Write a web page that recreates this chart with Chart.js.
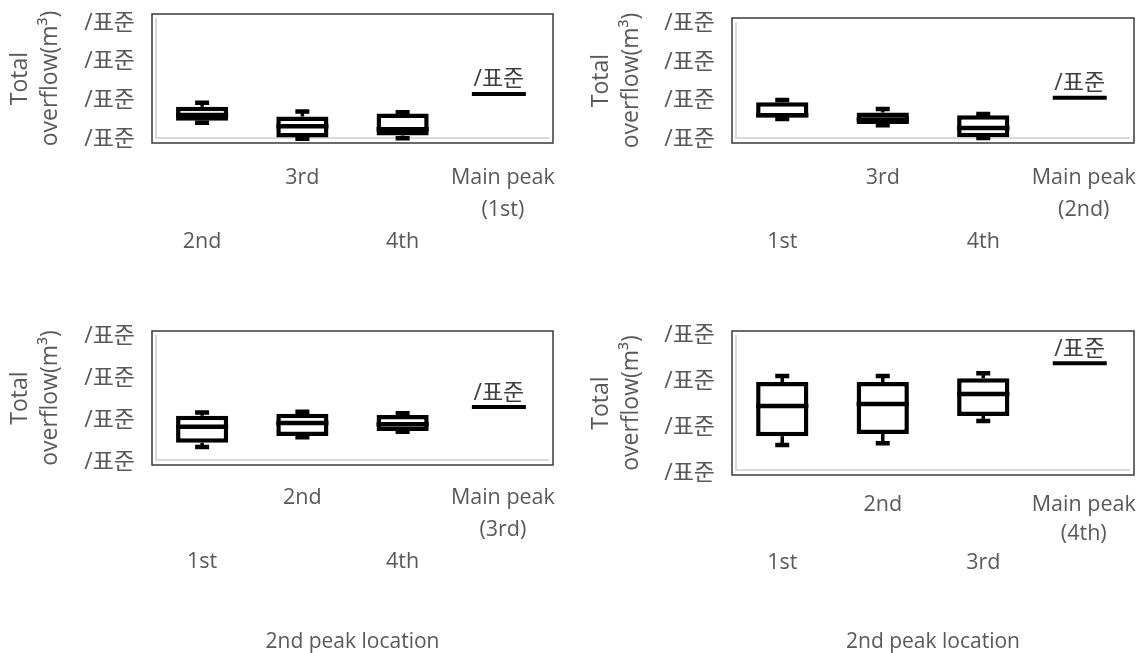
<!DOCTYPE html>
<html>
<head>
<meta charset="utf-8">
<script src="https://cdn.jsdelivr.net/npm/chart.js@4"></script>
<style>
  body { margin: 0; background: #fff; overflow: hidden; }
  .panel { position: absolute; }
</style>
</head>
<body>
<canvas id="c1" class="panel"></canvas>
<canvas id="c2" class="panel"></canvas>
<canvas id="c3" class="panel"></canvas>
<canvas id="c4" class="panel"></canvas>
<script>
// shared axis text
const yTickValues = [0, 1, 2, 3];
const yTickLabels = ['/표준', '/표준', '/표준', '/표준'];
const yTitle = ['Total', 'overflow(m³)'];
const xTitle = '2nd peak location';
const mainLabel = '/표준';

// panel 1 - main peak 1st
const p1Cats = ['2nd', '3rd', '4th', ['Main peak', '(1st)']];
const p1Min = [0.44, 0.03, 0.04, null];
const p1Q1 = [0.49, 0.06, 0.11, null];
const p1Med = [0.64, 0.35, 0.27, null];
const p1Q3 = [0.85, 0.60, 0.68, null];
const p1Max = [0.95, 0.73, 0.71, null];
const p1Main = 1.18;

// panel 2 - main peak 2nd
const p2Cats = ['1st', '3rd', '4th', ['Main peak', '(2nd)']];
const p2Min = [0.53, 0.37, 0.04, null];
const p2Q1 = [0.57, 0.40, 0.06, null];
const p2Med = [0.63, 0.52, 0.30, null];
const p2Q3 = [0.96, 0.70, 0.63, null];
const p2Max = [1.02, 0.79, 0.66, null];
const p2Main = 1.08;

// panel 3 - main peak 3rd
const p3Cats = ['1st', '2nd', '4th', ['Main peak', '(3rd)']];
const p3Min = [0.38, 0.61, 0.74, null];
const p3Q1 = [0.48, 0.64, 0.76, null];
const p3Med = [0.86, 0.95, 0.92, null];
const p3Q3 = [1.12, 1.17, 1.14, null];
const p3Max = [1.20, 1.22, 1.18, null];
const p3Main = 1.33;

// panel 4 - main peak 4th
const p4Cats = ['1st', '2nd', '3rd', ['Main peak', '(4th)']];
const p4Min = [0.61, 0.65, 1.13, null];
const p4Q1 = [0.80, 0.85, 1.24, null];
const p4Med = [1.46, 1.50, 1.72, null];
const p4Q3 = [1.98, 1.98, 2.06, null];
const p4Max = [2.11, 2.11, 2.17, null];
const p4Main = 2.39;

const FONT = "'Open Sans', 'Noto Sans CJK KR', sans-serif";
const GREY = '#595959';

// frame: black box round the plot area plus the light grey inner axis lines
const framePlugin = {
  id: 'frame',
  beforeDatasetsDraw(chart) {
    const a = chart.chartArea, ctx = chart.ctx;
    ctx.save();
    ctx.strokeStyle = '#d9d9d9';
    ctx.lineWidth = 2;
    ctx.beginPath();
    ctx.moveTo(a.left + 4, a.top + 4);
    ctx.lineTo(a.left + 4, a.bottom - 5);
    ctx.lineTo(a.right - 4, a.bottom - 5);
    ctx.stroke();
    ctx.strokeStyle = '#3a3a3a';
    ctx.lineWidth = 1.5;
    ctx.strokeRect(a.left, a.top, a.right - a.left, a.bottom - a.top);
    ctx.restore();
  }
};

// whiskers, medians and the main peak marker
const boxPlugin = {
  id: 'boxExtras',
  afterDatasetsDraw(chart) {
    const o = chart.options.plugins.boxExtras;
    const y = chart.scales.y, x = chart.scales.x, ctx = chart.ctx;
    const meta = chart.getDatasetMeta(0);
    ctx.save();
    ctx.strokeStyle = '#000';
    ctx.lineCap = 'butt';
    meta.data.forEach((bar, i) => {
      if (o.med[i] == null) return;
      const cx = bar.x, hw = bar.width / 2;
      ctx.lineWidth = 3.5;
      ctx.beginPath();
      ctx.moveTo(cx, y.getPixelForValue(o.q3[i]));
      ctx.lineTo(cx, y.getPixelForValue(o.max[i]));
      ctx.moveTo(cx, y.getPixelForValue(o.q1[i]));
      ctx.lineTo(cx, y.getPixelForValue(o.min[i]));
      ctx.stroke();
      ctx.lineWidth = 4.5;
      ctx.beginPath();
      ctx.moveTo(cx - 7, y.getPixelForValue(o.max[i]));
      ctx.lineTo(cx + 7, y.getPixelForValue(o.max[i]));
      ctx.moveTo(cx - 7, y.getPixelForValue(o.min[i]));
      ctx.lineTo(cx + 7, y.getPixelForValue(o.min[i]));
      ctx.moveTo(cx - hw, y.getPixelForValue(o.med[i]));
      ctx.lineTo(cx + hw, y.getPixelForValue(o.med[i]));
      ctx.stroke();
    });
    const mx = x.getPixelForValue(3) - 4;
    const my = y.getPixelForValue(o.main);
    ctx.lineWidth = 4;
    ctx.beginPath();
    ctx.moveTo(mx - 27, my);
    ctx.lineTo(mx + 27, my);
    ctx.stroke();
    ctx.fillStyle = '#404040';
    ctx.font = '23px ' + FONT;
    ctx.textAlign = 'center';
    ctx.textBaseline = 'middle';
    ctx.fillText(mainLabel, mx, my - 14);
    ctx.restore();
  }
};

function makePanel(id, cats, min, q1, med, q3, max, main, p) {
  const canvas = document.getElementById(id);
  canvas.width = p.w;
  canvas.height = p.h;
  canvas.style.left = p.left + 'px';
  canvas.style.top = p.top + 'px';
  const bars = q1.map((v, i) => (v == null ? null : [v, q3[i]]));
  return new Chart(canvas, {
    type: 'bar',
    data: {
      labels: cats,
      datasets: [{
        data: bars,
        backgroundColor: '#fff',
        borderColor: '#000',
        borderWidth: 4.5,
        borderSkipped: false,
        barPercentage: 0.52,
        categoryPercentage: 1
      }]
    },
    plugins: [framePlugin, boxPlugin],
    options: {
      responsive: false,
      animation: false,
      devicePixelRatio: 1,
      layout: { padding: { top: p.padTop, right: p.padRight, left: 0, bottom: 0 } },
      plugins: {
        legend: { display: false },
        tooltip: { enabled: false },
        boxExtras: { min, q1, med, q3, max, main }
      },
      scales: {
        x: {
          grid: { display: false, drawTicks: false },
          border: { display: false },
          ticks: {
            autoSkip: false,
            maxRotation: 0,
            minRotation: 0,
            padding: p.tickPad,
            color: GREY,
            font: { family: FONT, size: 21.5, lineHeight: p.lineH / 21.5 },
            callback(value, index) {
              const l = this.getLabelForValue(value);
              return index % 2 === 0 ? ['', '', l] : l;
            }
          },
          title: {
            display: p.xTitle,
            text: xTitle,
            color: GREY,
            font: { family: FONT, size: 21, lineHeight: 30 / 21 },
            padding: { top: 0, bottom: 3 }
          },
          afterFit(s) {
            s.height = p.h - p.bottom;
            s.paddingLeft = 0;
            s.paddingRight = 0;
          }
        },
        y: {
          min: p.yMin,
          max: p.yMax,
          grid: { display: false, drawTicks: false },
          border: { display: false },
          afterBuildTicks(s) { s.ticks = yTickValues.map(v => ({ value: v })); },
          ticks: {
            padding: 17,
            color: GREY,
            font: { family: FONT, size: 23 },
            callback(value) { return yTickLabels[yTickValues.indexOf(value)]; }
          },
          title: {
            display: true,
            text: yTitle,
            color: GREY,
            font: { family: FONT, size: 23, lineHeight: 30 / 23 },
            padding: { top: p.yTitlePad, bottom: 0 }
          },
          afterFit(s) {
            s.width = p.yW;
            s.paddingTop = 0;
            s.paddingBottom = 0;
          }
        }
      }
    }
  });
}

makePanel('c1', p1Cats, p1Min, p1Q1, p1Med, p1Q3, p1Max, p1Main,
  { left: 0, top: 0, w: 570, h: 300, padTop: 14, padRight: 17, yW: 152, bottom: 143,
    yMin: -0.08, yMax: 3.23, tickPad: 19, lineH: 32, xTitle: false, yTitlePad: 5 });
makePanel('c2', p2Cats, p2Min, p2Q1, p2Med, p2Q3, p2Max, p2Main,
  { left: 570, top: 0, w: 570, h: 300, padTop: 18, padRight: 6, yW: 162, bottom: 143,
    yMin: -0.09, yMax: 3.14, tickPad: 19, lineH: 32, xTitle: false, yTitlePad: 16 });
makePanel('c3', p3Cats, p3Min, p3Q1, p3Med, p3Q3, p3Max, p3Main,
  { left: 0, top: 320, w: 570, h: 340, padTop: 11, padRight: 17, yW: 152, bottom: 145,
    yMin: -0.05, yMax: 3.14, tickPad: 17, lineH: 32, xTitle: true, yTitlePad: 5 });
makePanel('c4', p4Cats, p4Min, p4Q1, p4Med, p4Q3, p4Max, p4Main,
  { left: 570, top: 320, w: 570, h: 340, padTop: 11, padRight: 6, yW: 162, bottom: 155,
    yMin: -0.043, yMax: 3.09, tickPad: 15, lineH: 29, xTitle: true, yTitlePad: 16 });
</script>
</body>
</html>
